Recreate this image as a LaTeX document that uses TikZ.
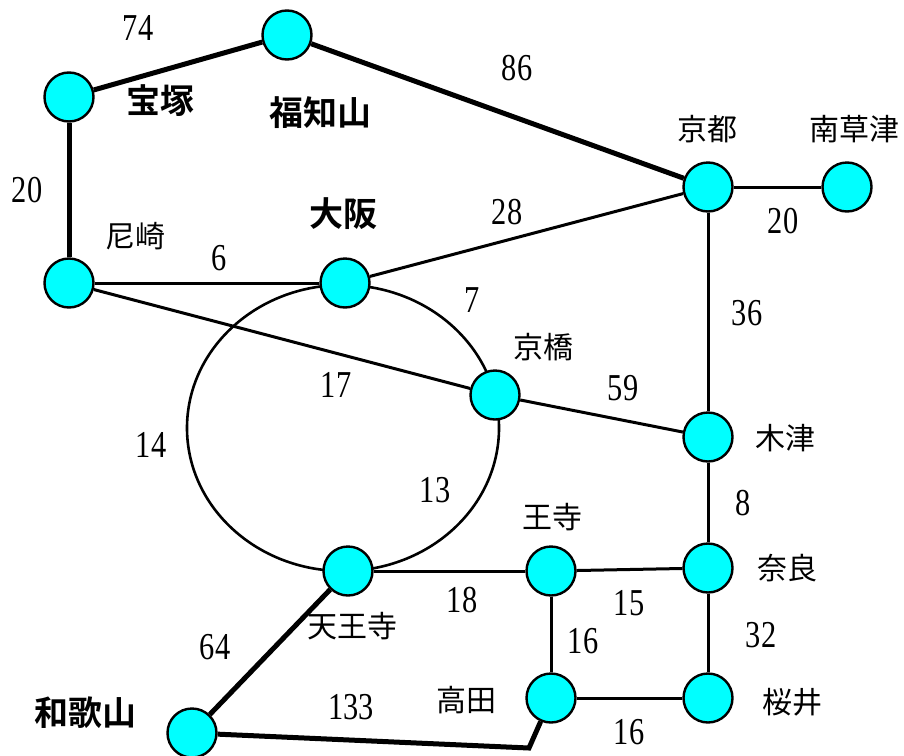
\documentclass[tikz,border=0pt]{standalone}
\usepackage{fontspec}
\setmainfont{Liberation Serif}
\newfontfamily\jp{Noto Sans CJK JP}[BoldFont={Noto Sans CJK JP Bold}]
\newfontfamily\numf{Liberation Serif}[FakeStretch=0.8]
\definecolor{stcyan}{HTML}{00FFFF}
\begin{document}
\begin{tikzpicture}[x=1pt,y=-1pt,
  stn/.style={circle,draw=black,fill=stcyan,line width=2.4pt,minimum size=49pt,inner sep=0pt},
  edg/.style={line width=3pt},
  thk/.style={line width=5pt},
  lab/.style={font=\jp\fontsize{30}{30}\selectfont,inner sep=0pt},
  blab/.style={font=\jp\bfseries\fontsize{34}{34}\selectfont,inner sep=0pt},
  num/.style={font=\numf\fontsize{38}{38}\selectfont,inner sep=0pt}]
\useasboundingbox (0,0) rectangle (904,755);
% loop line
\draw[line width=2.6pt] (343,428) ellipse [x radius=156pt, y radius=143pt];
% stations
\node[stn] (tkz) at (69,97) {};
\node[stn] (fku) at (287,35) {};
\node[stn] (kyo) at (708,187) {};
\node[stn] (mkt) at (847,187) {};
\node[stn] (ama) at (69,283) {};
\node[stn] (osk) at (345,283) {};
\node[stn] (kyb) at (495,395) {};
\node[stn] (kiz) at (708,437) {};
\node[stn] (ten) at (348,571) {};
\node[stn] (oji) at (551,571) {};
\node[stn] (nar) at (708,568) {};
\node[stn] (tak) at (551,698) {};
\node[stn] (sak) at (708,698) {};
\node[stn] (wak) at (192,733) {};
\coordinate (bend) at (529,748);
% thick lines
\draw[thk] (tkz) -- (fku);
\draw[thk] (fku) -- (kyo);
\draw[thk] (tkz) -- (ama);
\draw[thk] (ten) -- (wak);
\draw[thk] (wak) -- (bend) -- (tak);
% normal lines
\draw[edg] (kyo) -- (mkt);
\draw[edg] (ama) -- (osk);
\draw[edg] (ama) -- (kyb);
\draw[edg] (osk) -- (kyo);
\draw[edg] (kyb) -- (kiz);
\draw[edg] (kyo) -- (kiz);
\draw[edg] (kiz) -- (nar);
\draw[edg] (ten) -- (oji);
\draw[edg] (oji) -- (nar);
\draw[edg] (oji) -- (tak);
\draw[edg] (nar) -- (sak);
\draw[edg] (tak) -- (sak);
% station labels
\node[blab] (ltkz) at (160,101) {宝塚};
\node[blab] (lfku) at (320,113) {福知山};
\node[blab] (losk) at (343,214) {大阪};
\node[blab] (lwak) at (85,713) {和歌山};
\node[lab] (lkyo) at (707,129) {京都};
\node[lab] (lmkt) at (854,129) {南草津};
\node[lab] (lama) at (135,236) {尼崎};
\node[lab] (lkyb) at (543,347) {京橋};
\node[lab] (lkiz) at (785,438) {木津};
\node[lab] (loji) at (552,517) {王寺};
\node[lab] (lnar) at (787,568) {奈良};
\node[lab] (lten) at (352,626) {天王寺};
\node[lab] (ltak) at (466,700) {高田};
\node[lab] (lsak) at (792,702) {桜井};
% distances
\node[num] (n74) at (138,28) {74};
\node[num] (n86) at (517,68) {86};
\node[num] (n20a) at (27,190) {20};
\node[num] (n28) at (507,212) {28};
\node[num] (n20b) at (783,221) {20};
\node[num] (n6) at (219,258) {6};
\node[num] (n7) at (472,300) {7};
\node[num] (n36) at (747,313) {36};
\node[num] (n17) at (336,385) {17};
\node[num] (n59) at (623,388) {59};
\node[num] (n14) at (151,445) {14};
\node[num] (n13) at (435,490) {13};
\node[num] (n8) at (743,503) {8};
\node[num] (n18) at (462,600) {18};
\node[num] (n15) at (629,603) {15};
\node[num] (n32) at (761,635) {32};
\node[num] (n16a) at (583,641) {16};
\node[num] (n64) at (215,647) {64};
\node[num] (n133) at (351,707) {133};
\node[num] (n16b) at (629,732) {16};
\end{tikzpicture}
\end{document}
